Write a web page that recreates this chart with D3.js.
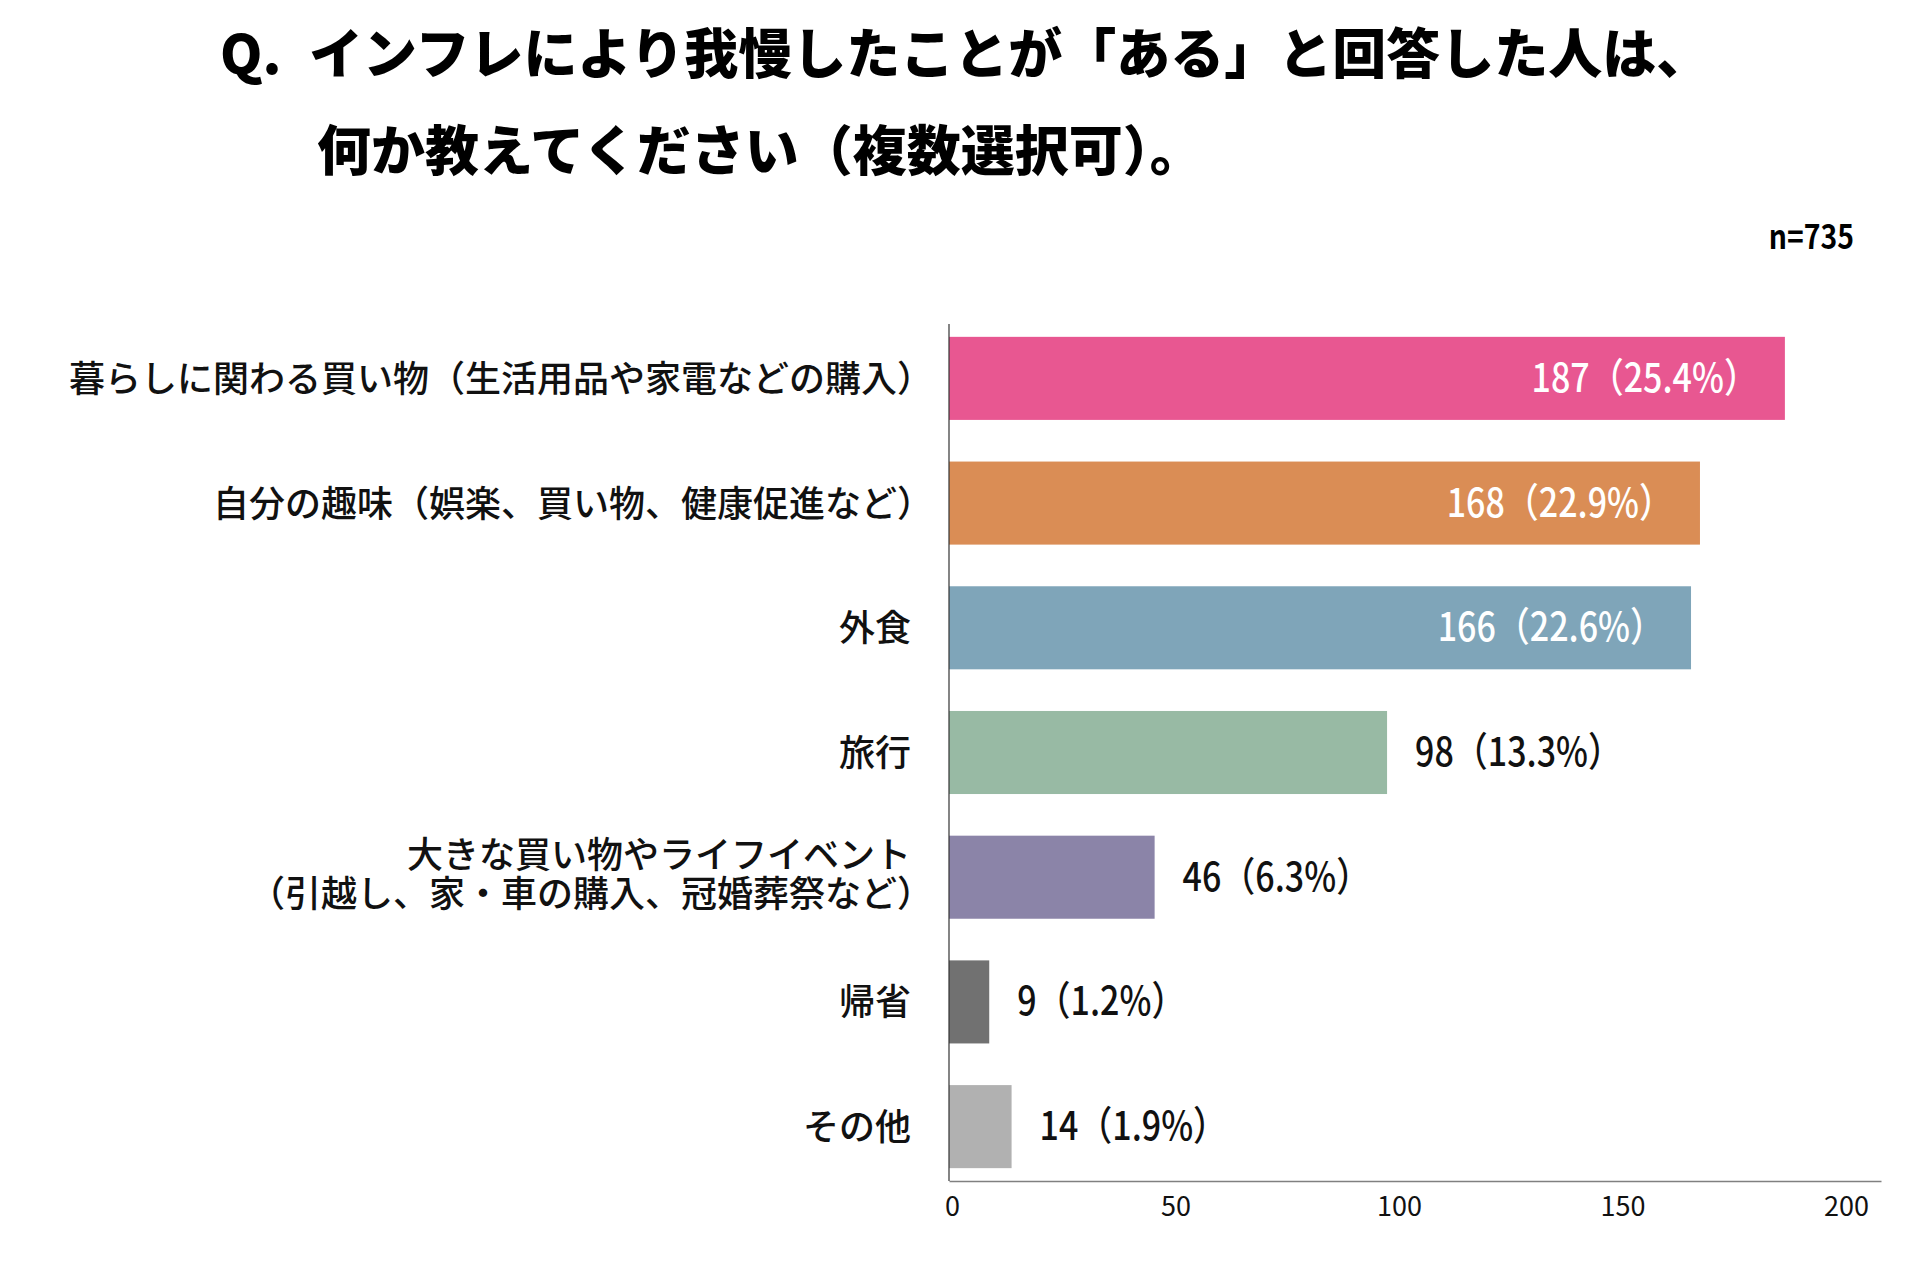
<!DOCTYPE html>
<html lang="ja">
<head>
<meta charset="utf-8">
<script src="https://cdn.jsdelivr.net/npm/d3@7"></script>
<style>
  html, body { margin: 0; padding: 0; background: #fff; }
  svg { display: block; }
  text { font-family: "Noto Sans CJK JP", "Noto Sans", sans-serif; }
</style>
</head>
<body>
<div id="chart"></div>
<script>
// data
var categories = [
  "暮らしに関わる買い物（生活用品や家電などの購入）",
  "自分の趣味（娯楽、買い物、健康促進など）",
  "外食",
  "旅行",
  "大きな買い物やライフイベント\n（引越し、家・車の購入、冠婚葬祭など）",
  "帰省",
  "その他"
];
var counts = [187, 168, 166, 98, 46, 9, 14];
var percents = ["25.4", "22.9", "22.6", "13.3", "6.3", "1.2", "1.9"];
var colors = ["#E85791", "#DA8D55", "#7FA5B9", "#98BAA4", "#8B84A8", "#717171", "#B1B1B1"];
var tickValues = [0, 50, 100, 150, 200];
var titleLines = ["インフレにより我慢したことが「ある」と回答した人は、", "何か教えてください（複数選択可）。"];
var sampleNote = "n=735";

var w = 1920;
var h = 1280;

var svg = d3.select("#chart")
            .append("svg")
            .attr("width", w)
            .attr("height", h);

var data = categories.map(function(c, i) {
  return { cat: c, v: counts[i], pct: percents[i], color: colors[i] };
});

// scales
var x = d3.scaleLinear()
          .domain([0, 208.5])
          .range([949, 1881]);

var y = d3.scaleBand()
          .domain(categories)
          .range([324, 1181])
          .paddingInner(0.334)
          .paddingOuter(0.103);

// title
svg.append("text")
   .attr("x", 220)
   .attr("y", 74)
   .attr("font-size", "54px")
   .attr("font-weight", 900)
   .attr("fill", "#000")
   .text("Q.");

svg.selectAll("text.title")
   .data(titleLines)
   .enter()
   .append("text")
   .attr("class", "title")
   .attr("x", function(d, i) { return i === 0 ? 309 : 317; })
   .attr("y", function(d, i) { return 74 + i * 97; })
   .attr("font-size", "54px")
   .attr("font-weight", 900)
   .attr("fill", "#000")
   .text(function(d) { return d; });

svg.append("text")
   .attr("transform", "translate(1854,249) scale(0.86,1)")
   .attr("text-anchor", "end")
   .attr("font-size", "33px")
   .attr("font-weight", 700)
   .attr("fill", "#000")
   .text(sampleNote);

// bars
svg.selectAll("rect.bar")
   .data(data)
   .enter()
   .append("rect")
   .attr("class", "bar")
   .attr("x", x(0))
   .attr("y", function(d) { return y(d.cat); })
   .attr("width", function(d) { return x(d.v) - x(0); })
   .attr("height", y.bandwidth())
   .attr("fill", function(d) { return d.color; });

// value labels (narrow digits like the original)
svg.selectAll("text.value")
   .data(data)
   .enter()
   .append("text")
   .attr("class", "value")
   .attr("transform", function(d) {
     var tx = d.v >= 150 ? x(d.v) - 27 : x(d.v) + 28;
     var ty = y(d.cat) + y.bandwidth() / 2 + 13.5;
     return "translate(" + tx + "," + ty + ") scale(0.85,1)";
   })
   .attr("text-anchor", function(d) { return d.v >= 150 ? "end" : "start"; })
   .attr("font-size", "40px")
   .attr("font-weight", 500)
   .attr("fill", function(d) { return d.v >= 150 ? "#fff" : "#111"; })
   .text(function(d) { return d.v + "（" + d.pct + "%）"; });

// category labels
var labels = svg.selectAll("text.label")
   .data(data)
   .enter()
   .append("text")
   .attr("class", "label")
   .attr("text-anchor", "end")
   .attr("font-size", "36px")
   .attr("font-weight", 500)
   .attr("fill", "#111");

labels.each(function(d) {
  var lines = d.cat.split("\n");
  var cy = y(d.cat) + y.bandwidth() / 2;
  var t = d3.select(this);
  lines.forEach(function(line, i) {
    var off = lines.length > 1 ? (i - (lines.length - 1) / 2) * 39 - 3 : 0;
    // full-width closing paren carries empty space on its right
    var ax = line.slice(-1) === "）" ? 933 : 911;
    t.append("tspan")
     .attr("x", ax)
     .attr("y", cy + off + 13.5)
     .text(line);
  });
});

// axes
var xAxis = d3.axisBottom(x)
              .tickValues(tickValues)
              .tickSize(0)
              .tickPadding(0);

var gx = svg.append("g")
            .attr("transform", "translate(0," + 1181 + ")")
            .call(xAxis);

gx.select(".domain")
  .attr("stroke", "#808080")
  .attr("stroke-width", 1.5);

gx.selectAll(".tick text")
  .attr("y", 35)
  .attr("dy", 0)
  .attr("dx", 3)
  .attr("font-family", "Noto Sans CJK JP")
  .attr("font-size", "27px")
  .attr("font-weight", 400)
  .attr("fill", "#111");

svg.append("line")
   .attr("x1", x(0))
   .attr("x2", x(0))
   .attr("y1", y.range()[0])
   .attr("y2", y.range()[1])
   .attr("stroke", "#333")
   .attr("stroke-width", 1.2);
</script>
</body>
</html>
